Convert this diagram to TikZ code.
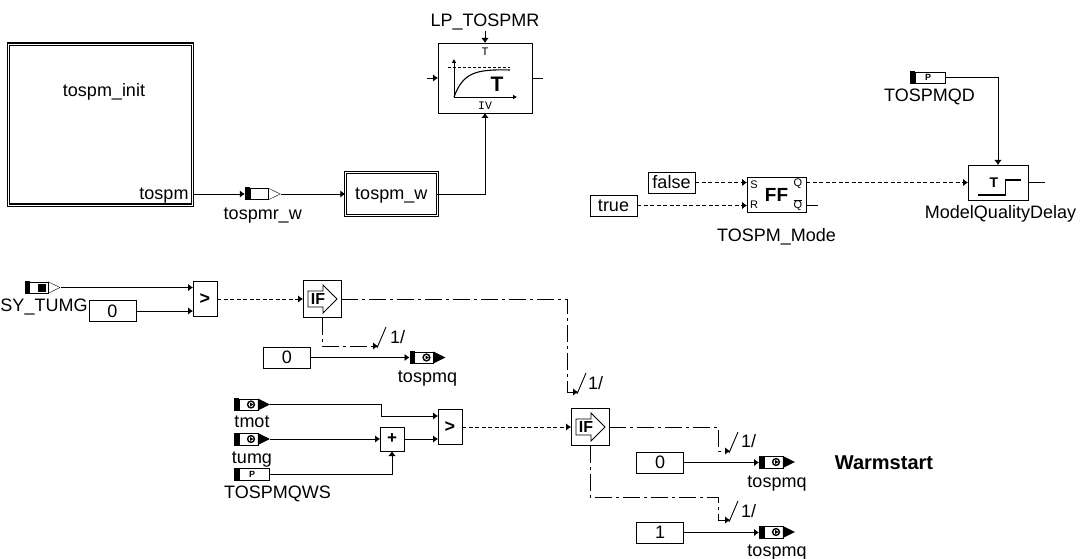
\documentclass[tikz,border=0pt]{standalone}
\usepackage{fontspec}
\setmainfont{Liberation Sans}
\newfontfamily\monoFont{Liberation Mono}
\usepackage{tikz}
\usetikzlibrary{arrows.meta, positioning}
\newcommand{\termBody}{\fill (-18,-6.5) rectangle (-13,6.5); \draw [fill=white] (-13,-5.7) rectangle (5.8,5.7);}
\tikzset{
    every node/.style={inner sep=0, outer sep=0},
    sigFont/.style={font=\fontsize{18}{20}\selectfont, text height=14pt, text depth=2pt},
    sigLabel/.style={sigFont},
    smallMono/.style={font=\monoFont\fontsize{11.5}{12}\selectfont},
    smallSans/.style={font=\fontsize{11}{12}\selectfont},
    wire/.style={draw, line width=0.9pt, -{Latex[length=5pt,width=7.5pt]}},
    stub/.style={draw, line width=0.9pt},
    flagLine/.style={wire, dash pattern=on 4pt off 2.5pt},
    ctlLine/.style={wire, dash pattern=on 17pt off 4pt on 3pt off 4pt},
    slash/.style={draw, line width=0.9pt},
    subsys/.style={draw, line width=1.1pt, double, double distance=0.9pt, sigFont},
    block/.style={draw, line width=0.9pt},
    constBox/.style={block, minimum width=47pt, minimum height=21pt, sigFont},
    cmpBlock/.style={block, minimum width=24pt, minimum height=35.5pt, font=\bfseries\fontsize{18}{20}\selectfont},
    addBlock/.style={block, minimum width=24pt, minimum height=24pt, font=\bfseries\fontsize{17}{20}\selectfont},
    ffBlock/.style={block, minimum width=59pt, minimum height=35pt, font=\bfseries\fontsize{19}{20}\selectfont},
    ifBlock/.style={block, minimum width=38pt, minimum height=37pt,
        path picture={\draw [line width=0.9pt, shift={(path picture bounding box.center)}]
            (-14,-8) -- (1,-8) -- (1,-14) -- (15,0) -- (1,14) -- (1,8) -- (-14,8) -- cycle;}},
    ifText/.style={label={[font=\bfseries\fontsize{16}{18}\selectfont, xshift=-4pt]center:IF}},
    delayBlock/.style={block, minimum width=60pt, minimum height=35pt,
        font=\bfseries\fontsize{14}{14}\selectfont,
        path picture={\draw [line width=1.5pt, shift={(path picture bounding box.center)}]
            (-20,7.5) -- (8,7.5) -- (8,-7.5) -- (23,-7.5);}},
    termBase/.style={minimum width=36pt, minimum height=13pt},
    termOut/.style={termBase, path picture={\begin{scope}[shift={(path picture bounding box.center)}]
            \termBody \draw (5.8,-5.7) -- (17.5,0) -- (5.8,5.7);
        \end{scope}}},
    termSy/.style={termBase, path picture={\begin{scope}[shift={(path picture bounding box.center)}]
            \termBody \draw (5.8,-5.7) -- (17.5,0) -- (5.8,5.7);
            \fill (-4.5,-4) rectangle (3.5,4);
        \end{scope}}},
    termIn/.style={termBase, path picture={\begin{scope}[shift={(path picture bounding box.center)}]
            \termBody \fill (5.8,-6) -- (18,0) -- (5.8,6) -- cycle;
            \draw [line width=1.4pt] (-1,0) circle (3.4pt);
            \fill (-2,-2) -- (1.5,0) -- (-2,2) -- cycle;
        \end{scope}}},
    termPar/.style={termBase, label={[font=\bfseries\fontsize{9}{9}\selectfont]center:P},
        path picture={\begin{scope}[shift={(path picture bounding box.center)}]
            \fill (-18,-6.5) rectangle (-13,6.5);
            \draw (-13,-5.7) rectangle (17.5,5.7);
        \end{scope}}}
}
\begin{document}
\begin{tikzpicture}[x=1pt, y=-1pt]
    \useasboundingbox (0,0) rectangle (1080,559);

    % Init subsystem and filter
    \node [subsys, minimum width=184pt, minimum height=161pt] (init) at (100.75,124.5) {};
    \node [sigFont] (initName) at (104,91) {tospm\_init};
    \node [sigFont, anchor=east] (initPort) at (188.5,194) {tospm};
    \node [termOut, right=52pt of init, yshift=-69.5pt] (tospmrW) {};
    \node [sigLabel, below=4.5pt of tospmrW] (tospmrWName) {tospmr\_w};
    \node [subsys, minimum width=92pt, minimum height=43pt, right=64.5pt of tospmrW] (tospmW) {tospm\_w};
    \node [block, minimum width=94pt, minimum height=70pt] (lowpass) at (485,78) {};
    \node [sigLabel, above=14.5pt of lowpass] (lpName) {LP\_TOSPMR};
    \coordinate [left=11pt of lowpass] (lpIn);
    \coordinate [right=11pt of lowpass] (lpOut);

    % Filter icon
    \begin{scope}[shift={(lowpass.center)}]
        \node [smallMono] (lpT) at (0,-26) {T};
        \node [smallMono] (lpIV) at (0,28) {IV};
        \node [font=\bfseries\fontsize{21}{21}\selectfont] (lpBig) at (12,6) {T};
        \draw [line width=0.9pt, -{Latex[length=4pt,width=5pt]}] (-31,19) -- (-31,-19);
        \draw [line width=0.9pt, -{Latex[length=4pt,width=5pt]}] (-31,19) -- (32,19);
        \draw [line width=0.9pt, dash pattern=on 3pt off 2pt] (-37,-11) -- (25,-11);
        \draw [line width=1.1pt] (-31,19) .. controls (-22,-5) and (-10,-9) .. (25,-8);
    \end{scope}

    \path [wire] (init.east |- tospmrW) -- (tospmrW);
    \path [wire] (tospmrW) -- (tospmW);
    \draw [wire] (tospmW.east) -| (lowpass.south);
    \draw [wire, shorten <=3pt] (lpName) -- (lowpass);
    \path [wire] (lpIn) -- (lowpass);
    \path [stub] (lowpass) -- (lpOut);

    % Flip flop and delay
    \node [constBox] (falseBox) at (671.5,182.5) {false};
    \node [constBox] (trueBox) at (613.5,205.5) {true};
    \node [ffBlock] (flipflop) at (776.5,194.5) {FF};
    \node [smallSans] (ffS) at (754,185) {S};
    \node [smallSans] (ffR) at (754,205) {R};
    \node [smallSans] (ffQ) at (798,184) {Q};
    \node [smallSans] (ffQbar) at (798,205) {$\overline{\mbox{Q}}$};
    \node [sigLabel, below=15.5pt of flipflop] (ffName) {TOSPM\_Mode};
    \coordinate [right=12pt of flipflop.east |- trueBox] (ffQbarOut);
    \node [delayBlock] (delay) at (998,182.5) {\hspace*{-8pt}T};
    \coordinate [right=17pt of delay] (delayOut);
    \node [sigLabel, below=4.5pt of delay, xshift=2.5pt] (delayName) {ModelQualityDelay};
    \node [termPar] (tospmqd) at (928,77.5) {};
    \node [sigLabel, below=3.5pt of tospmqd, xshift=1.5pt] (tospmqdName) {TOSPMQD};

    \path [flagLine] (falseBox) -- (falseBox -| flipflop.west);
    \path [flagLine] (trueBox) -- (trueBox -| flipflop.west);
    \path [flagLine] (flipflop.east |- delay) -- (delay);
    \path [stub] (flipflop.east |- trueBox) -- (ffQbarOut);
    \path [stub] (delay) -- (delayOut);
    \draw [wire] (tospmqd.east) -| (delay.north);

    % First condition
    \node [termSy] (syTumg) at (42.5,287.5) {};
    \node [sigLabel, below=3.5pt of syTumg, xshift=1.5pt] (syTumgName) {SY\_TUMG};
    \node [constBox] (zeroA) at (112.5,311) {0};
    \node [cmpBlock] (cmpA) at (205,299) {>};
    \node [ifBlock, ifText, right=86pt of cmpA] (ifA) {};
    \node [constBox] (zeroB) at (287,357.5) {0};
    \node [termIn] (tospmqA) at (427.5,357.5) {};
    \node [sigLabel, below=4.2pt of tospmqA] (tospmqAName) {tospmq};
    \coordinate (ctlLowEnd) at (378,346);
    \node [sigLabel, right=12pt of ctlLowEnd, yshift=9pt] (ctlLowName) {1/};

    \path [wire] (syTumg) -- (syTumg -| cmpA.west);
    \path [wire] (zeroA) -- (zeroA -| cmpA.west);
    \path [flagLine] (cmpA) -- (ifA);
    \draw [ctlLine] (ifA.south) |- (ctlLowEnd);
    \draw [slash] (ctlLowEnd) ++(-1,2) -- ++(9,-21);
    \path [wire] (zeroB) -- (tospmqA);

    % Second condition
    \node [termIn] (tmot) at (252,404.5) {};
    \node [sigLabel, below=2.5pt of tmot] (tmotName) {tmot};
    \node [termIn] (tumg) at (252,439) {};
    \node [sigLabel, below=3.5pt of tumg] (tumgName) {tumg};
    \node [termPar] (tospmqws) at (252,474) {};
    \node [sigLabel, below=3.5pt of tospmqws, xshift=25.5pt] (tospmqwsName) {TOSPMQWS};
    \node [addBlock] (adder) at (392,439) {+};
    \node [cmpBlock] (cmpB) at (450,427) {>};
    \node [ifBlock, ifText, right=109pt of cmpB] (ifB) {};
    \coordinate (tmotBend) at (381,416);
    \coordinate (cmpBTop) at (438,416);

    \draw [wire] (tmot.east) -| (tmotBend) -- (cmpBTop);
    \path [wire] (tumg) -- (adder);
    \draw [wire] (tospmqws.east) -| (adder.south);
    \path [wire] (adder) -- (adder -| cmpB.west);
    \path [flagLine] (cmpB) -- (ifB);

    % Branch from first IF to second IF
    \coordinate (ctlMidDrop) at (567,392);
    \coordinate (ctlMidEnd) at (578,392);
    \node [sigLabel, right=10pt of ctlMidEnd, yshift=9pt] (ctlMidName) {1/};
    \draw [ctlLine] (ifA.east) -| (ctlMidDrop) -- (ctlMidEnd);
    \draw [slash] (ctlMidEnd) ++(-1,2) -- ++(9,-21);

    % Outputs of second IF
    \coordinate (ctlTopBend) at (718,427);
    \coordinate (ctlTopEnd) at (730,451);
    \coordinate (ctlBotBend) at (718,497);
    \coordinate (ctlBotEnd) at (730,520);
    \node [sigLabel, right=11pt of ctlTopEnd, yshift=10pt] (ctlTopName) {1/};
    \node [sigLabel, right=11pt of ctlBotEnd, yshift=9pt] (ctlBotName) {1/};
    \draw [ctlLine] (ifB.east) -- (ctlTopBend) |- (ctlTopEnd);
    \draw [ctlLine] (ifB.south) |- (ctlBotBend) |- (ctlBotEnd);
    \draw [slash] (ctlTopEnd) ++(-1,2) -- ++(9,-21);
    \draw [slash] (ctlBotEnd) ++(-1,2) -- ++(9,-21);

    \node [constBox] (zeroC) at (660,462.5) {0};
    \node [termIn] (tospmqB) at (777,462) {};
    \node [sigLabel, below=5.2pt of tospmqB] (tospmqBName) {tospmq};
    \node [constBox] (oneC) at (660,532.5) {1};
    \node [termIn] (tospmqC) at (777,532) {};
    \node [sigLabel, below=3.5pt of tospmqC] (tospmqCName) {tospmq};
    \node [sigFont, font=\bfseries\fontsize{20}{22}\selectfont] (warmstart) at (884,463.5) {Warmstart};
    \path [wire] (zeroC.east) -- (zeroC.east -| tospmqB.west);
    \path [wire] (oneC.east) -- (oneC.east -| tospmqC.west);
\end{tikzpicture}
\end{document}
